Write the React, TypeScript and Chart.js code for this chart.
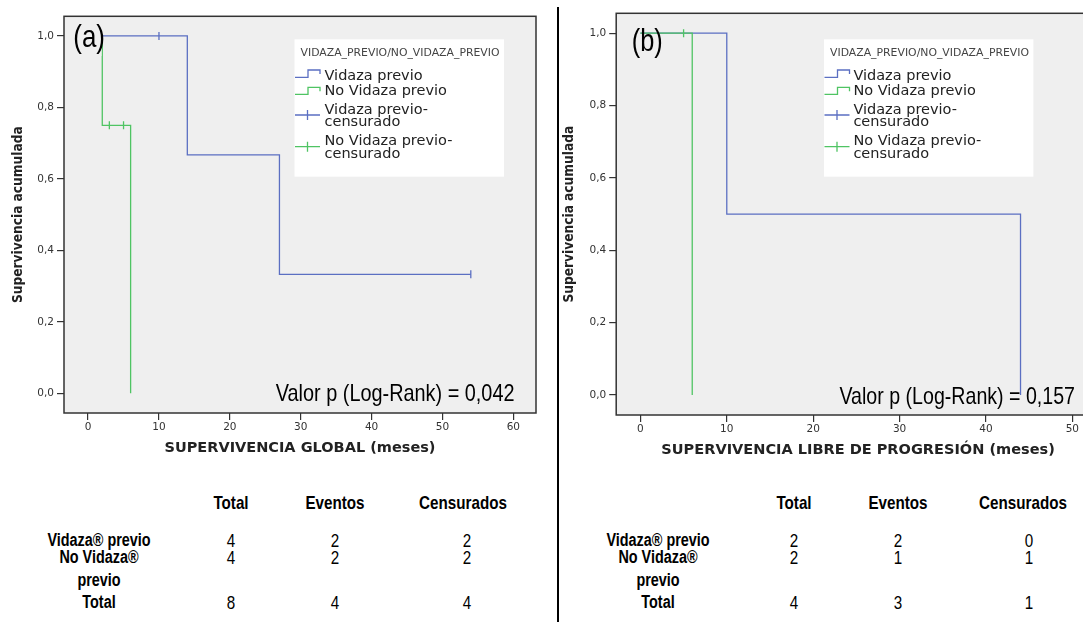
import React, { useEffect, useRef } from 'react';
import { Chart, registerables } from 'chart.js';

Chart.register(...registerables);

// ---------------- data ----------------
const survivalTicks = [0, 0.2, 0.4, 0.6, 0.8, 1.0];
const monthTicksA = [0, 10, 20, 30, 40, 50, 60];
const monthTicksB = [0, 10, 20, 30, 40, 50];

const groupNames = ['Vidaza previo', 'No Vidaza previo'];

// (a) Supervivencia global
const osVidazaMonths = [0, 14, 27, 54];
const osVidazaSurv = [1.0, 0.667, 0.333, 0.333];
const osVidazaCensMonths = [10, 54];
const osVidazaCensSurv = [1.0, 0.333];
const osNoVidazaMonths = [0, 2, 6];
const osNoVidazaSurv = [1.0, 0.75, 0.0];
const osNoVidazaCensMonths = [3, 5];
const osNoVidazaCensSurv = [0.75, 0.75];

// (b) Supervivencia libre de progresión
const pfsVidazaMonths = [0, 10, 44];
const pfsVidazaSurv = [1.0, 0.5, 0.0];
const pfsVidazaCensMonths: number[] = [];
const pfsVidazaCensSurv: number[] = [];
const pfsNoVidazaMonths = [0, 6];
const pfsNoVidazaSurv = [1.0, 0.0];
const pfsNoVidazaCensMonths = [5];
const pfsNoVidazaCensSurv = [1.0];

const legendTitle = 'VIDAZA_PREVIO/NO_VIDAZA_PREVIO';
const legendLabels = [
  ['Vidaza previo'],
  ['No Vidaza previo'],
  ['Vidaza previo-', 'censurado'],
  ['No Vidaza previo-', 'censurado'],
];

const yAxisTitle = 'Supervivencia acumulada';
const osTitle = 'SUPERVIVENCIA GLOBAL (meses)';
const pfsTitle = 'SUPERVIVENCIA LIBRE DE PROGRESIÓN (meses)';
const osP = 'Valor p (Log-Rank) = 0,042';
const pfsP = 'Valor p (Log-Rank) = 0,157';

const tableHeaders = ['Total', 'Eventos', 'Censurados'];
const tableRowLabels = [['Vidaza® previo'], ['No Vidaza®', 'previo'], ['Total']];
const osTable = [[4, 2, 2], [4, 2, 2], [8, 4, 4]];
const pfsTable = [[2, 2, 0], [2, 1, 1], [4, 3, 1]];

// ---------------- styles / layout ----------------
const BLUE = '#5b6fc2';
const GREEN = '#4fc463';
const PLOT_BG = '#efefef';
const AXIS = '#333333';

const zipPts = (xs: number[], ys: number[]) => xs.map((x, i) => ({ x, y: ys[i] }));

type Panel = any;

const panelA: Panel = {
  left: 0, width: 560, height: 470,
  padTop: 16.3, padRight: 24, yAxisWidth: 64, xAxisHeight: 57,
  xMin: -3.4, xMax: 63.2, yMin: -0.055, yMax: 1.055,
  xTicks: monthTicksA,
  blue: [osVidazaMonths, osVidazaSurv], blueC: [osVidazaCensMonths, osVidazaCensSurv],
  green: [osNoVidazaMonths, osNoVidazaSurv], greenC: [osNoVidazaCensMonths, osNoVidazaCensSurv],
  legend: { x: 294.5, y: 39.3, w: 209.5, h: 137.4, textDx: 30 },
  tag: { text: '(a)', x: 73.3, y: 38.5, w: 31.7, bg: [70, 21, 31.5, 35] },
  pval: { text: osP, x: 275.8, y: 394, w: 238.7 },
  xTitle: { text: osTitle, w: 271, y: 448.3 },
  yTitle: { x: 18.3, w: 176.6 },
};

const panelB: Panel = {
  left: 560, width: 560, height: 470,
  padTop: 13.3, padRight: 20, yAxisWidth: 56.2, xAxisHeight: 55,
  xMin: -2.8, xMax: 53.2, yMin: -0.055, yMax: 1.055,
  xTicks: monthTicksB,
  blue: [pfsVidazaMonths, pfsVidazaSurv], blueC: [pfsVidazaCensMonths, pfsVidazaCensSurv],
  green: [pfsNoVidazaMonths, pfsNoVidazaSurv], greenC: [pfsNoVidazaCensMonths, pfsNoVidazaCensSurv],
  legend: { x: 264, y: 39.3, w: 209.4, h: 137.4, textDx: 29.4 },
  tag: { text: '(b)', x: 71.7, y: 42, w: 31, bg: null },
  pval: { text: pfsP, x: 279.5, y: 397, w: 235.5 },
  xTitle: { text: pfsTitle, w: 393.5, y: 450.7 },
  yTitle: { x: 9.4, w: 176.6 },
};

function fitText(ctx: CanvasRenderingContext2D, text: string, x: number, y: number, width: number, font: string, color: string, rotate = false) {
  ctx.save();
  ctx.font = font;
  ctx.fillStyle = color;
  ctx.textBaseline = 'middle';
  ctx.textAlign = 'left';
  const w = ctx.measureText(text).width;
  const s = width / w;
  ctx.translate(x, y);
  if (rotate) ctx.rotate(-Math.PI / 2);
  ctx.scale(s, 1);
  ctx.fillText(text, 0, 0);
  ctx.restore();
}

function makePlugin(p: Panel) {
  return {
    id: 'kmDecor',
    beforeDraw(chart: any) {
      const { ctx, chartArea: a } = chart;
      ctx.save();
      ctx.fillStyle = PLOT_BG;
      ctx.fillRect(a.left, a.top, a.right - a.left, a.bottom - a.top);
      ctx.restore();
    },
    afterDatasetsDraw(chart: any) {
      const { ctx, chartArea: a } = chart;
      ctx.save();
      // frame
      ctx.strokeStyle = AXIS;
      ctx.lineWidth = 1.5;
      ctx.strokeRect(a.left, a.top, a.right - a.left, a.bottom - a.top);

      // panel tag
      if (p.tag.bg) {
        ctx.fillStyle = PLOT_BG;
        ctx.fillRect(p.tag.bg[0], p.tag.bg[1], p.tag.bg[2], p.tag.bg[3]);
      }
      fitText(ctx, p.tag.text, p.tag.x, p.tag.y, p.tag.w, '32px "Liberation Sans", Arial, sans-serif', '#000');

      // p value
      fitText(ctx, p.pval.text, p.pval.x, p.pval.y, p.pval.w, '24px "Liberation Sans", Arial, sans-serif', '#000');

      // legend
      const L = p.legend;
      ctx.fillStyle = '#ffffff';
      ctx.fillRect(L.x, L.y, L.w, L.h);
      fitText(ctx, legendTitle, L.x + 6, L.y + 14, 199, '11px "DejaVu Sans", sans-serif', '#444');
      const colors = [BLUE, GREEN, BLUE, GREEN];
      const lineYs = [[36.7], [52.4], [70.7, 83.4], [101.7, 115]];
      ctx.font = '14.5px "DejaVu Sans", sans-serif';
      ctx.textBaseline = 'middle';
      ctx.textAlign = 'left';
      ctx.fillStyle = '#222';
      legendLabels.forEach((lines, i) => {
        lines.forEach((t, j) => ctx.fillText(t, L.x + L.textDx, L.y + lineYs[i][j]));
      });
      ctx.lineWidth = 1.3;
      const x0 = L.x + 0.5;
      const steps = [[38, 30.7], [55, 48]];
      steps.forEach(([lo, hi], i) => {
        ctx.strokeStyle = colors[i];
        ctx.beginPath();
        ctx.moveTo(x0, L.y + lo);
        ctx.lineTo(x0 + 13, L.y + lo);
        ctx.lineTo(x0 + 13, L.y + hi);
        ctx.lineTo(x0 + 25, L.y + hi);
        ctx.lineTo(x0 + 25, L.y + hi + 4);
        ctx.stroke();
      });
      const crosses = [75.7, 107.4];
      crosses.forEach((cy, i) => {
        ctx.strokeStyle = colors[i + 2];
        ctx.beginPath();
        ctx.moveTo(x0, L.y + cy);
        ctx.lineTo(x0 + 25, L.y + cy);
        ctx.moveTo(x0 + 12.5, L.y + cy - 5);
        ctx.lineTo(x0 + 12.5, L.y + cy + 5);
        ctx.stroke();
      });
      ctx.restore();
    },
    afterDraw(chart: any) {
      const { ctx, chartArea: a } = chart;
      const cx = (a.left + a.right) / 2;
      fitText(ctx, p.xTitle.text, cx - p.xTitle.w / 2, p.xTitle.y, p.xTitle.w, 'bold 14px "DejaVu Sans", sans-serif', '#222');
      const cy = (a.top + a.bottom) / 2;
      fitText(ctx, yAxisTitle, p.yTitle.x, cy + p.yTitle.w / 2, p.yTitle.w, 'bold 14px "DejaVu Sans", sans-serif', '#222', true);
    },
  };
}

function buildConfig(p: Panel): any {
  const lineDs = (pts: number[][], color: string, label: string, order: number) => ({
    label, data: zipPts(pts[0], pts[1]), borderColor: color, borderWidth: 1.3,
    stepped: 'before', pointRadius: 0, fill: false, order,
  });
  const censDs = (pts: number[][], color: string, label: string, order: number) => ({
    label, data: zipPts(pts[0], pts[1]), showLine: false, pointStyle: 'line', rotation: 90,
    pointRadius: 4, borderColor: color, pointBorderColor: color, pointBorderWidth: 1.3,
    backgroundColor: color, order,
  });
  const tickFont = { family: '"DejaVu Sans", sans-serif', size: 10.5 };
  return {
    type: 'line',
    data: {
      datasets: [
        censDs(p.greenC, GREEN, groupNames[1] + '-censurado', 0),
        lineDs(p.green, GREEN, groupNames[1], 1),
        censDs(p.blueC, BLUE, groupNames[0] + '-censurado', 2),
        lineDs(p.blue, BLUE, groupNames[0], 3),
      ],
    },
    options: {
      responsive: false,
      animation: false,
      layout: { padding: { top: p.padTop, right: p.padRight, left: 0, bottom: 0 } },
      plugins: { legend: { display: false }, tooltip: { enabled: false } },
      scales: {
        x: {
          type: 'linear', min: p.xMin, max: p.xMax,
          afterBuildTicks: (s: any) => { s.ticks = p.xTicks.map((v: number) => ({ value: v })); },
          afterFit: (s: any) => { s.height = p.xAxisHeight; },
          ticks: { font: tickFont, color: '#333', padding: 1, maxRotation: 0, autoSkip: false, callback: (v: any) => String(v) },
          grid: { drawOnChartArea: false, drawTicks: true, tickLength: 7, color: AXIS, lineWidth: 1.2 },
          border: { display: false },
        },
        y: {
          type: 'linear', min: p.yMin, max: p.yMax,
          afterBuildTicks: (s: any) => { s.ticks = survivalTicks.map((v) => ({ value: v })); },
          afterFit: (s: any) => { s.width = p.yAxisWidth; },
          ticks: { font: tickFont, color: '#333', padding: 3, autoSkip: false, callback: (v: any) => Number(v).toFixed(1).replace('.', ',') },
          grid: { drawOnChartArea: false, drawTicks: true, tickLength: 7, color: AXIS, lineWidth: 1.2 },
          border: { display: false },
        },
      },
    },
    plugins: [makePlugin(p)],
  };
}

function KMChart({ panel }: { panel: Panel }) {
  const ref = useRef<HTMLCanvasElement>(null);
  useEffect(() => {
    const chart = new Chart(ref.current as HTMLCanvasElement, buildConfig(panel));
    return () => chart.destroy();
  }, [panel]);
  return (
    <div style={{ position: 'absolute', left: panel.left, top: 0 }}>
      <canvas ref={ref} width={panel.width} height={panel.height} style={{ display: 'block', width: panel.width, height: panel.height }} />
    </div>
  );
}

const FONT = '"Liberation Sans", Arial, sans-serif';

function Txt({ x, y, text, bold, size }: { x: number; y: number; text: string; bold?: boolean; size: number }) {
  return (
    <div
      style={{
        position: 'absolute', left: x, top: y, whiteSpace: 'nowrap', lineHeight: 1,
        transform: 'translate(-50%, -50%) scaleX(0.8)',
        fontFamily: FONT, fontWeight: bold ? 'bold' : 'normal', fontSize: size, color: '#000',
      }}
    >
      {text}
    </div>
  );
}

function StatsTable({ values, labelX, colX, valX }: { values: number[][]; labelX: number; colX: number[]; valX: number[] }) {
  const headerY = 502;
  const rowY = [[540], [557, 580], [602]];
  return (
    <>
      {tableHeaders.map((h, i) => <Txt key={'h' + i} x={colX[i]} y={headerY} text={h} bold size={19} />)}
      {tableRowLabels.map((lines, r) =>
        lines.map((t, j) => <Txt key={'l' + r + j} x={labelX} y={rowY[r][j]} text={t} bold size={18} />)
      )}
      {values.map((row, r) =>
        row.map((v, c) => <Txt key={'v' + r + c} x={valX[c]} y={rowY[r][0]} text={String(v)} size={19} />)
      )}
    </>
  );
}

export default function App() {
  return (
    <div style={{ position: 'fixed', left: 0, top: 0, width: 1083, height: 622, overflow: 'hidden', background: '#fff' }}>
      <KMChart panel={panelA} />
      <KMChart panel={panelB} />
      <div style={{ position: 'absolute', left: 556.5, top: 7, width: 2, height: 615, background: '#000' }} />
      <StatsTable values={osTable} labelX={98.5} colX={[231, 335, 463]} valX={[231, 335, 467]} />
      <StatsTable values={pfsTable} labelX={657.7} colX={[794, 898, 1023]} valX={[794, 898, 1029]} />
    </div>
  );
}
